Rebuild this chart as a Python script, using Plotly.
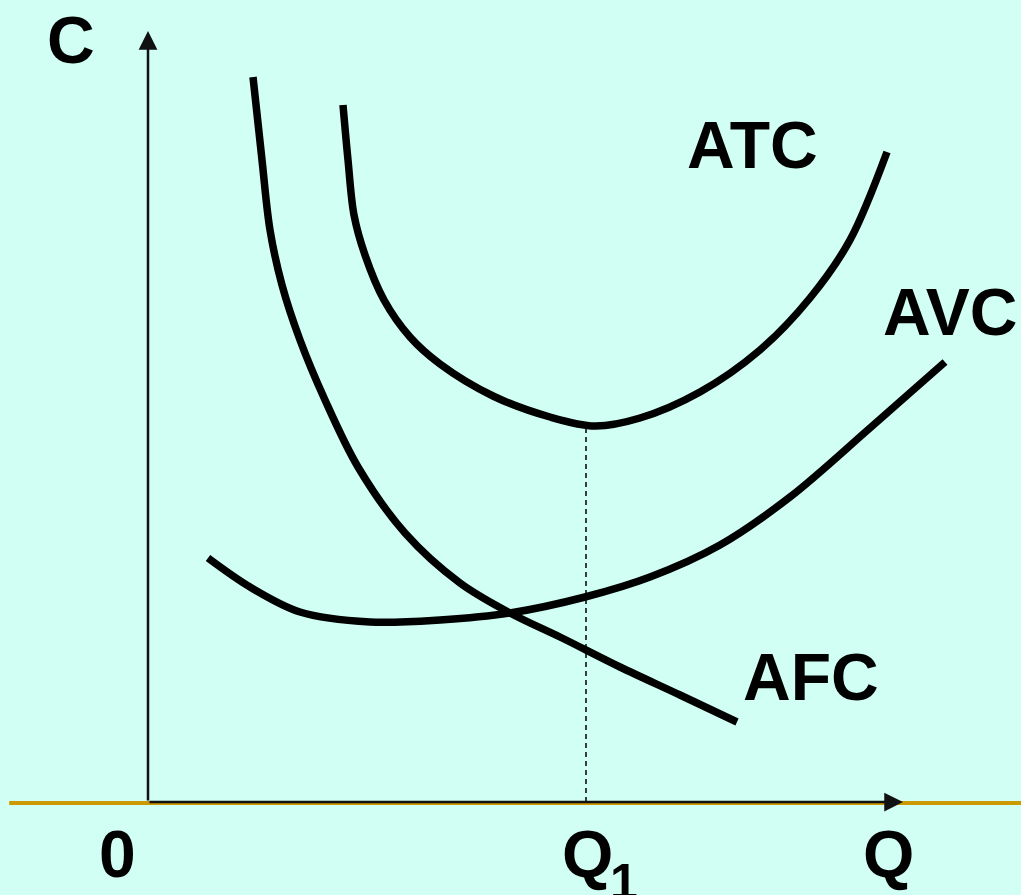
import plotly.graph_objects as go

# cost curves (Q, C)
afc_q = [1.05, 1.14, 1.22, 1.34, 1.52, 1.77, 2.10, 2.57, 3.12, 3.62, 4.12, 4.72, 5.32, 5.89]
afc_c = [7.25, 6.42, 5.72, 5.17, 4.62, 4.02, 3.35, 2.69, 2.19, 1.89, 1.65, 1.35, 1.07, 0.80]

atc_q = [1.95, 2.00, 2.06, 2.17, 2.36, 2.62, 2.92, 3.45, 4.02, 4.47, 4.92, 5.52, 6.12, 6.62, 7.02, 7.39]
atc_c = [6.97, 6.42, 5.87, 5.47, 5.02, 4.65, 4.38, 4.06, 3.85, 3.76, 3.84, 4.10, 4.52, 5.04, 5.62, 6.50]

avc_q = [0.60, 1.02, 1.52, 2.22, 2.92, 3.62, 4.37, 5.02, 5.72, 6.42, 7.22, 7.97]
avc_c = [2.44, 2.15, 1.90, 1.80, 1.82, 1.89, 2.05, 2.25, 2.57, 3.05, 3.74, 4.40]

q1 = 4.38
atc_min = 3.76
q_max = 7.55
c_max = 7.71

bg = "#D1FFF3"
font = "Liberation Sans, Arial, sans-serif"

fig = go.Figure()

# gold baseline of the slide
fig.add_shape(type="line", xref="paper", yref="y", x0=0.009, x1=1, y0=-0.01, y1=-0.01,
              line=dict(color="#CC9900", width=4))

for q, c in [(afc_q, afc_c), (atc_q, atc_c), (avc_q, avc_c)]:
    fig.add_trace(go.Scatter(x=q, y=c, mode="lines",
                             line=dict(color="black", width=7.5, shape="spline", smoothing=0.95),
                             showlegend=False, hoverinfo="skip"))

# dashed drop line at Q1
fig.add_trace(go.Scatter(x=[q1, q1], y=[0, atc_min], mode="lines",
                         line=dict(color="black", width=1.5, dash="5px,4px"),
                         showlegend=False, hoverinfo="skip"))

# axes with arrows
for x0, y0, x1, y1 in [(0, 0, q_max, 0), (0, 0, 0, c_max)]:
    fig.add_annotation(x=x1, y=y1, ax=x0, ay=y0, xref="x", yref="y", axref="x", ayref="y",
                       showarrow=True, arrowhead=2, arrowsize=1.5, arrowwidth=2.5,
                       arrowcolor="#111111", text="", standoff=0)

labels = [
    ("C", -0.77, 7.62, 66),
    ("ATC", 6.04, 6.57, 66),
    ("AVC", 8.02, 4.90, 66),
    ("AFC", 6.63, 1.25, 66),
    ("0", -0.31, -0.52, 66),
    ("Q", 7.40, -0.52, 66),
    ("Q", 4.39, -0.52, 66),
    ("1", 4.76, -0.80, 50),
]
for txt, x, y, size in labels:
    fig.add_annotation(x=x, y=y, text=f"<b>{txt}</b>", showarrow=False,
                       font=dict(family=font, size=size, color="black"))

fig.update_xaxes(range=[-1.48, 8.73], visible=False, fixedrange=True)
fig.update_yaxes(range=[-0.93, 8.02], visible=False, fixedrange=True)
fig.update_layout(width=1021, height=895, autosize=False,
                  margin=dict(l=0, r=0, t=0, b=0),
                  paper_bgcolor=bg, plot_bgcolor=bg)

# drop the browser's default body margin so the figure fills the window
fig.write_html("out.html", config={"displayModeBar": False},
               post_script=f"document.body.style.margin='0';document.body.style.background='{bg}';")
